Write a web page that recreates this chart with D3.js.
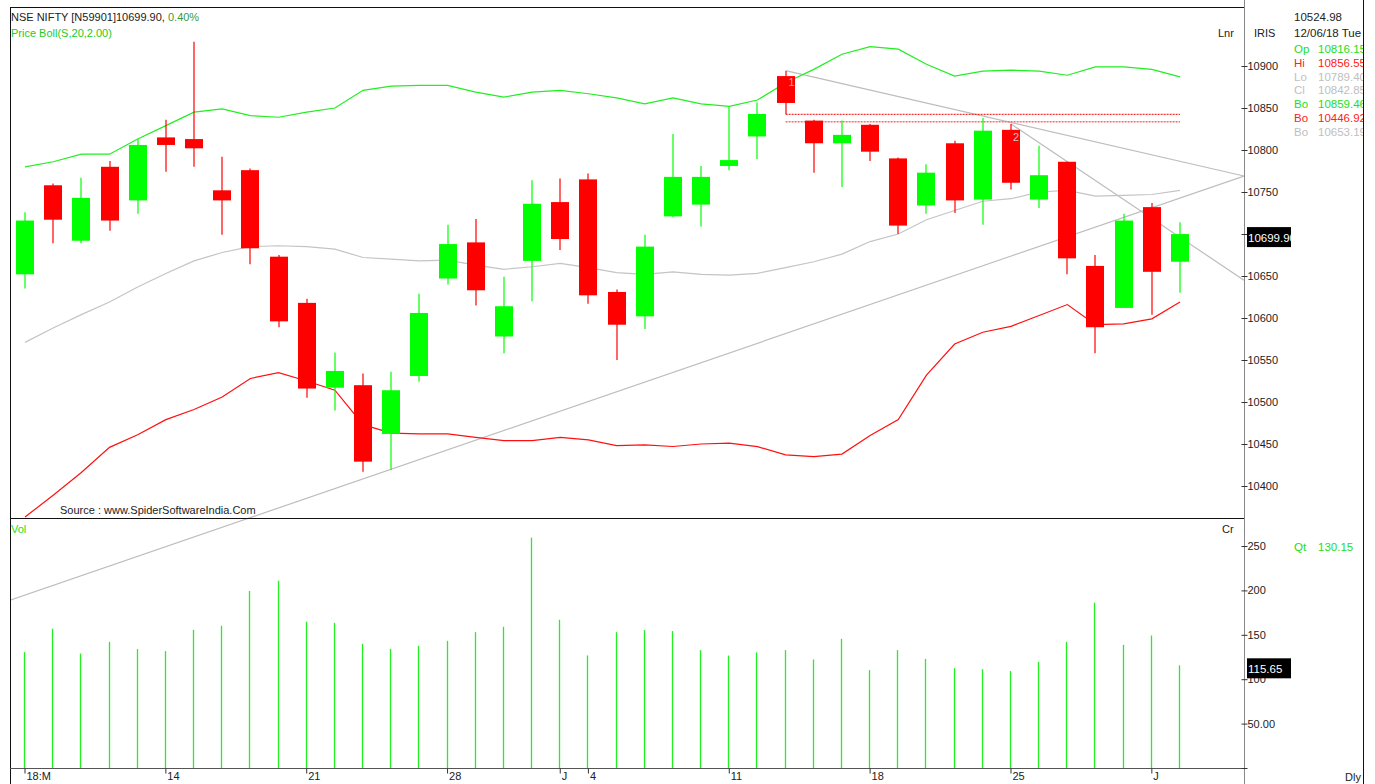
<!DOCTYPE html>
<html><head><meta charset="utf-8">
<script src="https://cdn.jsdelivr.net/npm/d3@7"></script>
<style>body{margin:0;background:#fff;overflow:hidden;} svg{display:block;font-family:"Liberation Sans",Arial,sans-serif;}</style>
</head><body><svg id="c" width="1375" height="784"></svg>
<script>
// ---------- DATA ----------
const dates = ["2018-05-07","2018-05-08","2018-05-09","2018-05-10","2018-05-11","2018-05-14","2018-05-15","2018-05-16","2018-05-17","2018-05-18",
"2018-05-21","2018-05-22","2018-05-23","2018-05-24","2018-05-25","2018-05-28","2018-05-29","2018-05-30","2018-05-31","2018-06-01",
"2018-06-04","2018-06-05","2018-06-06","2018-06-07","2018-06-08","2018-06-11","2018-06-12","2018-06-13","2018-06-14","2018-06-15",
"2018-06-18","2018-06-19","2018-06-20","2018-06-21","2018-06-22","2018-06-25","2018-06-26","2018-06-27","2018-06-28","2018-06-29",
"2018-07-02","2018-07-03"];
const openP  = [10652,10758,10692,10780,10740,10815,10813,10752,10776,10673,10618,10517,10520,10462,10531,10647,10690,10578,10668,10738,10765,10631,10602,10721,10735,10781,10816.15,10888,10835,10808,10830,10790,10734,10808,10741,10824,10741,10786,10662,10612,10732,10667];
const highP  = [10726,10760,10767,10787,10813,10836,10929,10792,10778,10675,10623,10559,10534,10536,10629,10711,10718,10649,10764,10766,10772,10634,10699,10819,10781,10851,10856.55,10894,10836,10835,10831,10791,10783,10811,10838,10831,10805,10786,10675,10724,10737,10714];
const lowP   = [10635,10689,10689,10704,10724,10774,10780,10699,10664,10589,10505,10490,10417,10419,10524,10640,10615,10558,10620,10681,10617,10550,10587,10720,10709,10776,10789.40,10843,10773,10756,10787,10700,10724,10725,10711,10753,10731,10652,10558,10612,10604,10630];
const closeP = [10716,10717,10743,10716,10806,10806,10802,10740,10683,10596,10516,10537,10429,10514,10606,10688,10633,10614,10736,10694,10627,10592,10685,10768,10768,10788,10842.85,10856,10808,10818,10798,10710,10773,10740,10823,10761,10770,10671,10589,10716,10655,10699.90];
const bollUpper = [10780,10786,10795,10795,10813,10829,10845,10849,10841,10839,10845,10850,10871,10876,10877,10877,10869,10863,10869,10871,10867,10862,10855,10862,10855,10852,10859.46,10880,10896,10914,10923,10920,10902,10888,10894,10895,10894,10889,10899,10899,10896,10887];
const bollMid   = [10571,10588,10604,10619,10637,10653,10668,10678,10685,10686,10685,10682,10672,10670,10668,10669,10663,10658,10661,10665,10660,10654,10652,10655,10652,10651,10653.19,10660,10667,10676,10691,10700,10717,10728,10739,10742,10750,10752,10745,10746,10747,10752];
const bollLower = [10363,10389,10416,10446,10461,10479,10491,10506,10528,10535,10525,10514,10473,10463,10462,10462,10458,10454,10454,10458,10455,10448,10449,10447,10450,10451,10446.92,10437,10435,10438,10460,10479,10532,10569,10583,10590,10603,10616,10592,10593,10599,10619];
const volume = [130.5,156.8,128.9,142.1,133.9,131.6,155.6,160.2,199.3,210.9,164.7,163.5,139.9,134.2,137.6,143.2,153,159,259.4,166.9,126.7,153,155.3,154.2,132.7,126.7,130.15,132.7,122.2,145.5,110.2,132.7,122.9,112.4,111.3,109.1,119.6,142.1,186.1,138.7,149.2,115.65];
const xTickIdx    = [0,5,10,15,19,20,25,30,35,40];
const xTickLabels = ["18:M","14","21","28","J","4","11","18","25","J"];
const priceTicks = [10400,10450,10500,10550,10600,10650,10700,10750,10800,10850,10900];
const priceHiddenLabel = 10700; // covered by the last-value box
const volTicks = [0,50,100,150,200,250];
// trendlines in (index, price) space
const trendA = [[27,10894.4],[43.27,10769]];
const trendB = [[35,10831],[43.27,10645]];
const trendC = [[-0.53,10264],[43.27,10769]];
const levelLines = [[[27,10842.5],[41,10842.5]],[[27,10833.7],[41,10833.7]]];
const infoRows = [["Op","10816.15","#22dd22"],["Hi","10856.55","#ff2020"],["Lo","10789.40","#c0c0c0"],["Cl","10842.85","#c0c0c0"],["Bo","10859.46","#22dd22"],["Bo","10446.92","#ff2020"],["Bo","10653.19","#c0c0c0"]];

// ---------- SCALES ----------
const svg = d3.select("#c");
const x = d3.scaleLinear().domain([0,41]).range([25,1180]);
const yP = d3.scaleLinear().domain([10400,10900]).range([486,66]);
const yV = d3.scaleLinear().domain([0,250]).range([768,546]);
const FONT = '"Liberation Sans",Arial,sans-serif';
const FS = 11;

svg.append("clipPath").attr("id","pclip").append("rect").attr("x",11).attr("y",8).attr("width",1233).attr("height",510);
svg.append("clipPath").attr("id","plotclip").append("rect").attr("x",11).attr("y",8).attr("width",1233).attr("height",760);
svg.append("clipPath").attr("id","rclip").append("rect").attr("x",1245).attr("y",0).attr("width",118).attr("height",784);

const plot = svg.append("g").attr("clip-path","url(#plotclip)");
const pp = svg.append("g").attr("clip-path","url(#pclip)");

// trendlines (gray)
const tl = d3.line().x(d=>x(d[0])).y(d=>yP(d[1]));
[trendC].forEach(t=>plot.append("path").attr("d",tl(t)).attr("fill","none").attr("stroke","#bdbdbd").attr("stroke-width",1.2));
[trendA,trendB].forEach(t=>pp.append("path").attr("d",tl(t)).attr("fill","none").attr("stroke","#bdbdbd").attr("stroke-width",1.2));

// bollinger bands
const bl = arr => d3.line().x((d,i)=>x(i)).y(d=>yP(d))(arr);
pp.append("path").attr("d",bl(bollMid)).attr("fill","none").attr("stroke","#c4c4c4").attr("stroke-width",1.2);
pp.append("path").attr("d",bl(bollUpper)).attr("fill","none").attr("stroke","#22ee22").attr("stroke-width",1.2);
pp.append("path").attr("d",bl(bollLower)).attr("fill","none").attr("stroke","#ff1010").attr("stroke-width",1.2);

// level dotted lines
pp.append("path").attr("d",tl(levelLines[0])).attr("stroke","#ee0000").attr("stroke-width",1).attr("stroke-dasharray","2,1").attr("fill","none");
pp.append("path").attr("d",tl(levelLines[1])).attr("stroke","#ff6a6a").attr("stroke-width",1.6).attr("stroke-dasharray","2,1").attr("fill","none");

// candles
const idx = d3.range(dates.length);
const cg = pp.append("g");
idx.forEach(i=>{
  const up = closeP[i] >= openP[i];
  const col = up ? "#00ff00" : "#ff0000";
  const cx = Math.round(x(i));
  cg.append("line").attr("x1",cx).attr("x2",cx).attr("y1",yP(highP[i])).attr("y2",yP(lowP[i])).attr("stroke",col).attr("stroke-width",1.2);
  const t = yP(Math.max(openP[i],closeP[i])), b = yP(Math.min(openP[i],closeP[i]));
  cg.append("rect").attr("x",cx-9).attr("y",t).attr("width",18).attr("height",Math.max(1.5,b-t)).attr("fill",col);
});

// markers
pp.append("text").attr("x",x(27)+3).attr("y",yP(10894.4)+15).text("1").attr("fill","#e8a0a0").attr("font-size",FS).attr("font-family",FONT);
pp.append("text").attr("x",x(35)+2).attr("y",yP(10831)+17).text("2").attr("fill","#c8c8c8").attr("font-size",FS).attr("font-family",FONT);

// volume
svg.append("g").selectAll("line").data(volume).join("line")
  .attr("x1",(d,i)=>Math.round(x(i))-0.5).attr("x2",(d,i)=>Math.round(x(i))-0.5)
  .attr("y1",yV(0)).attr("y2",d=>yV(d)).attr("stroke","#22f022").attr("stroke-width",1.3);

// frame
const ln = (x1,y1,x2,y2,c)=>svg.append("line").attr("x1",x1).attr("y1",y1).attr("x2",x2).attr("y2",y2).attr("stroke",c).attr("stroke-width",1);
ln(10,7.5,1244,7.5,"#111");
ln(10.5,7,10.5,784,"#111");
ln(10,518.5,1244,518.5,"#111");
ln(10,768.5,1244,768.5,"#555");
ln(1244.5,0,1244.5,784,"#888");
ln(1363.5,0,1363.5,784,"#111");

// price axis
const gP = svg.append("g").attr("transform","translate(1244.5,0)")
  .call(d3.axisRight(yP).tickValues(priceTicks).tickSize(3).tickFormat(d=> d===priceHiddenLabel ? "" : d3.format("d")(d)));
gP.select(".domain").remove();
gP.selectAll(".tick line").attr("x1",-3).attr("x2",3).attr("stroke","#333");
gP.selectAll(".tick text").attr("x",3).attr("fill","#222").attr("font-size",FS).attr("font-family",FONT);

// volume axis
const gV = svg.append("g").attr("transform","translate(1244.5,0)")
  .call(d3.axisRight(yV).tickValues(volTicks).tickSize(3).tickFormat(d=> d===0 ? "" : (d===50 ? "50.00" : String(d))));
gV.select(".domain").remove();
gV.selectAll(".tick line").attr("x1",-3).attr("x2",3).attr("stroke","#333");
gV.selectAll(".tick text").attr("x",3).attr("fill","#222").attr("font-size",FS).attr("font-family",FONT);

// x axis
const labelOf = new Map(xTickIdx.map((v,i)=>[v,xTickLabels[i]]));
const gX = svg.append("g").attr("transform","translate(0,768.5)")
  .call(d3.axisBottom(x).tickValues(xTickIdx).tickSize(5).tickFormat(d=>labelOf.get(d)));
gX.select(".domain").remove();
gX.selectAll(".tick line").attr("stroke","#333").attr("transform","translate(-0.5,0)");
gX.selectAll(".tick text").attr("text-anchor","start").attr("x",1).attr("y",4).attr("dy","0.71em").attr("fill","#222").attr("font-size",FS).attr("font-family",FONT);

// current value boxes
function valBox(yc, txt){
  const g = svg.append("g");
  const id = "vb"+Math.round(yc);
  g.append("clipPath").attr("id",id).append("rect").attr("x",1247).attr("y",yc-7).attr("width",44).attr("height",20);
  g.append("rect").attr("x",1247).attr("y",yc-7).attr("width",44).attr("height",20).attr("fill","#000");
  g.append("text").attr("clip-path",`url(#${id})`).attr("x",1248).attr("y",yc+8).text(txt).attr("fill","#fff").attr("font-size",11.5).attr("font-family",FONT);
}
valBox(yP(closeP[closeP.length-1]), d3.format(".2f")(closeP[closeP.length-1]));
valBox(yV(volume[volume.length-1]), d3.format(".2f")(volume[volume.length-1]));

// texts
const tx = (xx,yy,s,c,fs,g)=> (g||svg).append("text").attr("x",xx).attr("y",yy).text(s).attr("fill",c).attr("font-size",fs||FS).attr("font-family",FONT);
const t1 = svg.append("text").attr("x",11).attr("y",21).attr("font-size",FS).attr("font-family",FONT).attr("fill","#222");
t1.append("tspan").text("NSE NIFTY [N59901]10699.90,  ");
t1.append("tspan").attr("fill","#3a9a3a").text("0.40%");
tx(11,37,"Price  Boll(S,20,2.00)","#22cc22");
tx(1218,37,"Lnr","#222");
tx(60,514,"Source : www.SpiderSoftwareIndia.Com","#222");
tx(11,533,"Vol","#22dd22");
tx(1222,533,"Cr","#222");

const rp = svg.append("g").attr("clip-path","url(#rclip)");
tx(1254,37,"IRIS","#222",FS,rp);
tx(1294,21,"10524.98","#222",11.5,rp);
tx(1294,37,"12/06/18 Tue","#222",11.5,rp);
infoRows.forEach((r,i)=>{
  tx(1294,53+i*13.8,r[0],r[2],11.5,rp);
  tx(1318,53+i*13.8,r[1],r[2],11.5,rp);
});
tx(1294,551,"Qt","#22dd22",11.5,rp);
tx(1318,551,"130.15","#22dd22",11.5,rp);
tx(1345,781,"Dly","#222",FS);
</script></body></html>
